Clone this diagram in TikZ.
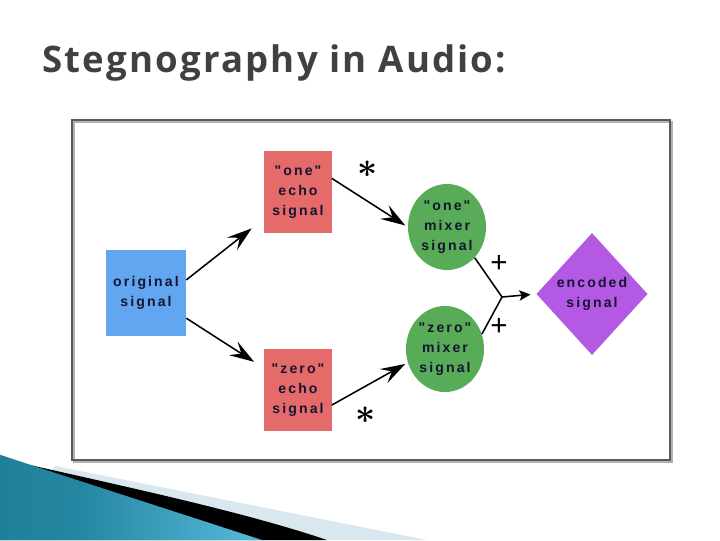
\documentclass[tikz,border=0pt]{standalone}
\usepackage{fontspec}
\setmainfont{Liberation Sans}
\newfontfamily\titlefont[LetterSpace=6]{Open Sans}
\newfontfamily\lblfont[LetterSpace=15]{Liberation Sans}
\usetikzlibrary{arrows.meta, shapes.geometric}

\definecolor{titlegray}{HTML}{404040}
\definecolor{origblue}{HTML}{62A6F0}
\definecolor{echored}{HTML}{E56B6B}
\definecolor{mixgreen}{HTML}{58AC58}
\definecolor{encpurple}{HTML}{B459E4}
\definecolor{lbltext}{HTML}{151530}
\definecolor{framegray}{HTML}{5A5A5A}
\definecolor{bandlight}{HTML}{D9E8EF}
\definecolor{tealdark}{HTML}{16768F}
\definecolor{teallight}{HTML}{52B6D6}
\pgfdeclarehorizontalshading{tealband}{100bp}{color(0bp)=(tealdark); color(40bp)=(tealdark!75!teallight); color(72bp)=(teallight); color(100bp)=(tealdark)}

\begin{document}
\begin{tikzpicture}[
    x=0.025cm, y=-0.025cm,
    sig/.style={align=center, inner sep=0pt, text=lbltext,
        font=\lblfont\bfseries\fontsize{10}{14}\selectfont},
    srcbox/.style={sig, rectangle, fill=origblue, minimum width=2cm, minimum height=2.15cm},
    echobox/.style={sig, rectangle, fill=echored, minimum width=1.675cm, minimum height=2.05cm},
    mixer/.style={sig, ellipse, fill=mixgreen, minimum width=1.95cm, minimum height=2.15cm},
    result/.style={sig, diamond, fill=encpurple, minimum width=2.78cm, minimum height=3.05cm},
    conn/.style={-{Stealth[length=6.2mm, width=4mm, inset=2.4mm]}, line width=1.1pt},
    sign/.style={inner sep=0pt},
]
    \useasboundingbox (0,0) rectangle (720,540);

    % Title
    \node[anchor=base west, inner sep=0pt, text=titlegray,
        font=\titlefont\bfseries\fontsize{26}{30}\selectfont] (title) at (42,72) {Stegnography in Audio:};

    % Frame
    \draw[gray!60, line width=1.2pt] (74,122) rectangle (672,462);
    \draw[framegray, line width=1.2pt] (72,120) rectangle (670,460);

    % Signals
    \node[srcbox] (orig) at (146,293) {original\\signal};
    \node[echobox] (oneecho) at (298,192) {"one"\\echo\\signal};
    \node[echobox] (zeroecho) at (298,390) {"zero"\\echo\\signal};
    \node[mixer] (onemix) at (447,227) {"one"\\mixer\\signal};
    \node[mixer] (zeromix) at (445,349) {"zero"\\mixer\\signal};
    \node[result] (encoded) at (592,294) {encoded\\signal};

    \coordinate (join) at (502,297);

    % Connectors
    \draw[conn, shorten >=16pt*0.709] (orig.18) -- (oneecho);
    \draw[conn, shorten >=12pt*0.709] (orig.-32) -- (zeroecho);
    \draw[conn, shorten >=2pt] (oneecho.22) -- (onemix.west);
    \draw[conn, shorten >=2pt] (zeroecho.-24) -- (zeromix.200);
    \draw[line width=1.1pt] (onemix.-48) -- (join) -- (zeromix.22);
    \draw[-{Stealth[length=2.8mm, width=2.6mm, inset=0.6mm]}, line width=1.1pt, shorten >=4pt] (join) -- (encoded.west);

    % Operators
    \node[sign, font=\fontsize{33}{33}\selectfont\boldmath] (star1) at (368,169) {$\ast$};
    \node[sign, font=\fontsize{33}{33}\selectfont\boldmath] (star2) at (366,415) {$\ast$};
    \node[sign, font=\fontsize{21}{21}\selectfont] (plus1) at (499,264) {+};
    \node[sign, font=\fontsize{21}{21}\selectfont] (plus2) at (499,327) {+};

    % Bottom corner bands
    \fill[bandlight] (55,466) -- (427,540) -- (0,540) -- cycle;
    \fill[black] (30,465) .. controls (150,492) and (250,514) .. (327,540) -- (0,540) -- (0,455) -- cycle;
    \shade[shading=tealband] (0,455) -- (262,540) -- (0,540) -- cycle;
\end{tikzpicture}
\end{document}
